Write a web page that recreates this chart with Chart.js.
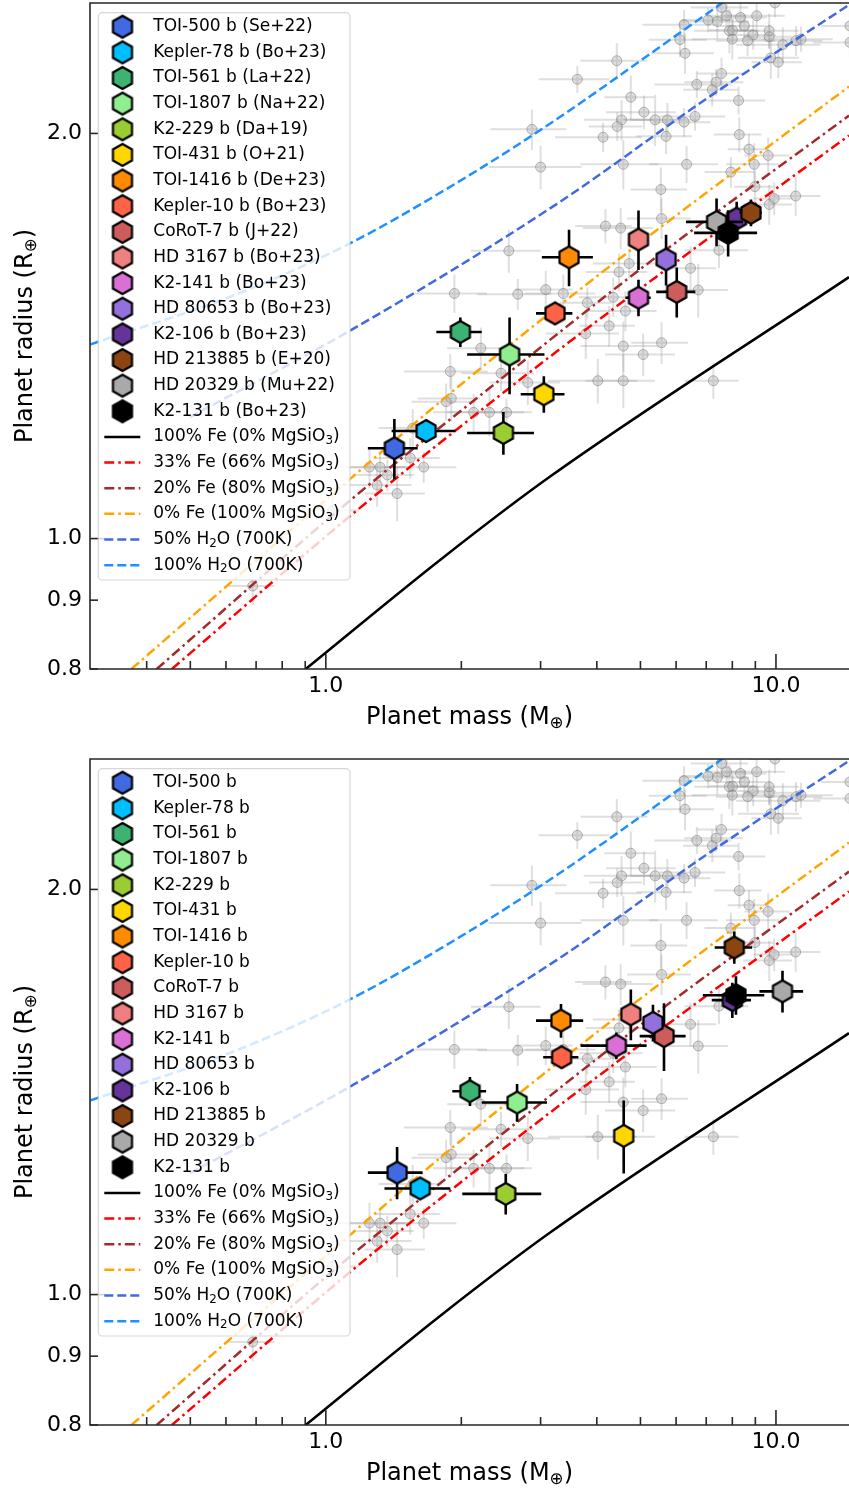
<!DOCTYPE html>
<html lang="en">
<head>
<meta charset="UTF-8" />
<title>Planet mass-radius diagram</title>
<script src="https://cdn.jsdelivr.net/npm/chart.js"></script>
<style>
  body { margin: 0; background: #fff; }
  .panel { position: absolute; left: 0; width: 849px; height: 734px; }
  #panelTop { top: 0; }
  #panelBottom { top: 756px; }
</style>
</head>
<body>
<div class="panel" id="panelTop"><canvas id="chartTop" width="849" height="734"></canvas></div>
<div class="panel" id="panelBottom"><canvas id="chartBottom" width="849" height="734"></canvas></div>

<script>
// ---- planets ----
const planetNames = ['TOI-500 b', 'Kepler-78 b', 'TOI-561 b', 'TOI-1807 b', 'K2-229 b', 'TOI-431 b',
  'TOI-1416 b', 'Kepler-10 b', 'CoRoT-7 b', 'HD 3167 b', 'K2-141 b', 'HD 80653 b', 'K2-106 b',
  'HD 213885 b', 'HD 20329 b', 'K2-131 b'];
const planetRefs = ['Se+22', 'Bo+23', 'La+22', 'Na+22', 'Da+19', 'O+21', 'De+23', 'Bo+23', 'J+22',
  'Bo+23', 'Bo+23', 'Bo+23', 'Bo+23', 'E+20', 'Mu+22', 'Bo+23'];

// literature values (top panel)
const massLit = [1.42, 1.67, 1.99, 2.56, 2.48, 3.05, 3.47, 3.23, 6.02, 4.95, 4.95, 5.70, 8.18, 8.80, 7.38, 7.83];
const massErrLit = [0.18, 0.27, 0.23, 0.50, 0.42, 0.34, 0.45, 0.30, 0.60, 0.20, 0.32, 0.25, 0.70, 0.50, 1.07, 1.25];
const radiusLit = [1.167, 1.202, 1.424, 1.370, 1.198, 1.280, 1.618, 1.470, 1.525, 1.668, 1.510, 1.612, 1.729, 1.746, 1.719, 1.687];
const radiusErrLit = [0.060, 0.023, 0.036, 0.090, 0.044, 0.040, 0.078, 0.020, 0.065, 0.085, 0.047, 0.070, 0.050, 0.040, 0.070, 0.067];

// homogeneous values (bottom panel)
const massHom = [1.44, 1.62, 2.09, 2.66, 2.51, 4.59, 3.33, 3.34, 5.64, 4.76, 4.42, 5.33, 8.00, 8.08, 10.34, 8.15];
const massErrHom = [0.20, 0.27, 0.18, 0.44, 0.50, 0.20, 0.40, 0.30, 0.66, 0.20, 0.74, 0.25, 0.80, 0.77, 1.15, 1.27];
const radiusHom = [1.232, 1.199, 1.416, 1.389, 1.188, 1.312, 1.598, 1.501, 1.556, 1.615, 1.531, 1.592, 1.655, 1.811, 1.680, 1.669];
const radiusErrHom = [0.055, 0.020, 0.035, 0.045, 0.041, 0.082, 0.046, 0.020, 0.090, 0.070, 0.035, 0.050, 0.050, 0.050, 0.060, 0.055];

// ---- other known small planets (grey background) ----
const bgMass = [7.57, 7.07, 7.41, 7.77, 8.34, 9.06, 6.25, 8.51, 7.88, 8.01, 8.90, 9.66, 9.66, 8.00, 8.65, 6.12,
  10.36, 11.08, 11.37, 14.6, 14.6, 6.28, 9.74, 10.12, 4.43, 3.62, 7.57, 7.36, 6.67, 7.22, 4.76, 8.26, 5.09,
  6.61, 4.54, 4.44, 5.39, 5.74, 6.25, 2.87, 4.13, 5.70, 8.29, 8.71, 9.61, 8.95, 4.58, 6.33, 3.00, 7.94, 5.55,
  8.98, 11.06, 9.91, 9.66, 5.57, 4.18, 4.52, 2.55, 7.47, 6.46, 4.72, 4.48, 1.93, 2.67, 3.08, 3.37, 6.72, 3.81,
  4.35, 4.63, 4.26, 3.78, 2.21, 4.58, 5.57, 5.07, 1.89, 2.45, 2.81, 4.02, 4.58, 7.26, 1.90, 1.85, 2.13, 2.31,
  2.52, 1.54, 1.65, 1.32, 1.25, 1.37, 1.30, 1.44, 1.56, 1.035, 0.688, 9.95];
const bgMassErr = [1.1, 0.9, 1.3, 0.8, 1.2, 1.4, 1.2, 1.0, 1.3, 0.9, 1.1, 1.6, 1.2, 1.5, 1.3, 0.9,
  2.2, 1.6, 2.0, 2.5, 2.0, 1.0, 1.5, 1.3, 0.75, 0.65, 0.9, 1.1, 1.3, 1.0, 0.6, 1.2, 0.9,
  1.1, 0.8, 0.6, 0.8, 1.0, 0.9, 0.55, 0.9, 0.8, 1.0, 0.9, 1.1, 1.2, 0.9, 1.1, 0.7, 1.0, 0.8,
  0.9, 1.5, 1.0, 1.2, 0.9, 0.6, 0.8, 0.45, 1.2, 0.9, 0.8, 0.7, 0.35, 0.5, 0.45, 0.6, 1.1, 0.5,
  0.7, 0.8, 0.6, 0.7, 0.35, 0.9, 0.8, 0.9, 0.4, 0.45, 0.5, 0.9, 0.8, 1.0, 0.3, 0.3, 0.4, 0.45,
  0.35, 0.25, 0.3, 0.2, 0.25, 0.2, 0.25, 0.22, 0.25, 0.15, 0.08, 1.3];
const bgRadius = [2.481, 2.428, 2.422, 2.446, 2.439, 2.446, 2.409, 2.404, 2.384, 2.386, 2.367, 2.384, 2.360,
  2.350, 2.344, 2.348, 2.328, 2.344, 2.350, 2.337, 2.404, 2.294, 2.276, 2.259, 2.265, 2.194, 2.216, 2.183,
  2.175, 2.155, 2.128, 2.116, 2.074, 2.059, 2.047, 2.024, 2.047, 2.047, 2.039, 2.014, 1.987, 1.990, 1.996,
  1.947, 1.926, 1.897, 1.897, 1.897, 1.888, 1.872, 1.817, 1.826, 1.797, 1.789, 1.771, 1.729, 1.707, 1.701,
  1.636, 1.638, 1.588, 1.601, 1.578, 1.521, 1.519, 1.531, 1.521, 1.530, 1.497, 1.511, 1.476, 1.439, 1.420,
  1.385, 1.390, 1.398, 1.370, 1.331, 1.327, 1.306, 1.310, 1.310, 1.310, 1.271, 1.264, 1.241, 1.241, 1.241,
  1.148, 1.130, 1.130, 1.130, 1.115, 1.096, 1.080, 1.208, 1.049, 0.922, 2.50];
const bgRadiusErr = [0.06, 0.05, 0.07, 0.05, 0.06, 0.08, 0.06, 0.05, 0.09, 0.05, 0.06, 0.07, 0.05,
  0.08, 0.06, 0.07, 0.07, 0.06, 0.05, 0.06, 0.07, 0.08, 0.08, 0.06, 0.07, 0.05, 0.06, 0.05,
  0.05, 0.06, 0.08, 0.05, 0.06, 0.05, 0.07, 0.05, 0.09, 0.06, 0.05, 0.07, 0.05, 0.06, 0.06,
  0.05, 0.06, 0.07, 0.08, 0.06, 0.07, 0.05, 0.07, 0.05, 0.06, 0.05, 0.06, 0.06, 0.05, 0.06,
  0.06, 0.05, 0.06, 0.04, 0.05, 0.05, 0.04, 0.05, 0.05, 0.07, 0.04, 0.05, 0.05, 0.05, 0.06,
  0.05, 0.06, 0.05, 0.05, 0.04, 0.04, 0.05, 0.05, 0.06, 0.04, 0.05, 0.04, 0.04, 0.05, 0.03,
  0.04, 0.03, 0.03, 0.04, 0.03, 0.04, 0.05, 0.04, 0.03, 0.03, 0.06];

// ---- composition models (mass, radius) ----
const fe100Mass = [0.902, 1.80, 3.15, 14.53];
const fe100Radius = [0.800, 0.965, 1.112, 1.564];
const fe33Mass = [0.455, 1.131, 2.698, 5.81, 14.53];
const fe33Radius = [0.800, 1.039, 1.312, 1.592, 1.993];
const fe20Mass = [0.421, 1.131, 2.436, 4.953, 14.53];
const fe20Radius = [0.800, 1.067, 1.312, 1.582, 2.062];
const fe0Mass = [0.370, 1.131, 2.054, 4.953, 14.53];
const fe0Radius = [0.800, 1.107, 1.312, 1.655, 2.167];
const h2o50Mass = [0.499, 1.131, 3.262, 7.135, 14.53];
const h2o50Radius = [1.231, 1.427, 1.773, 2.131, 2.492];
const h2o100Mass = [0.30, 0.634, 1.131, 2.089, 3.311, 6.12, 7.62, 10.0];
const h2o100Radius = [1.394, 1.519, 1.657, 1.863, 2.057, 2.376, 2.502, 2.667];

// ---- axes ----
const xRange = [0.2993, 14.53];
const yRange = [0.8, 2.5];
const xTickLabels = [1, 10];
const yTickLabels = [0.8, 0.9, 1.0, 2.0];
const xMajor = [1, 10];
const xMinor = [0.4, 0.5, 0.6, 0.7, 0.8, 0.9, 2, 3, 4, 5, 6, 7, 8, 9];
const yMajor = [1];
const yMinor = [0.8, 0.9, 2];

const FONT = "'DejaVu Sans', sans-serif";
const planetColors = ['#4169e1', '#00bfff', '#3cb371', '#90ee90', '#9acd32', '#ffd700', '#ff8c00', '#ff6347',
  '#cd5c5c', '#f08080', '#da70d6', '#9370db', '#663399', '#8b4513', '#a9a9a9', '#000000'];

const models = [
  { label: '100% Fe (0% MgSiO_{3})', mass: fe100Mass, radius: fe100Radius, color: '#000000', dash: [] },
  { label: '33% Fe (66% MgSiO_{3})', mass: fe33Mass, radius: fe33Radius, color: '#ff0000', dash: [10, 4, 2.5, 4] },
  { label: '20% Fe (80% MgSiO_{3})', mass: fe20Mass, radius: fe20Radius, color: '#a52a2a', dash: [10, 4, 2.5, 4] },
  { label: '0% Fe (100% MgSiO_{3})', mass: fe0Mass, radius: fe0Radius, color: '#ffa500', dash: [10, 4, 2.5, 4] },
  { label: '50% H_{2}O (700K)', mass: h2o50Mass, radius: h2o50Radius, color: '#4169e1', dash: [9, 4] },
  { label: '100% H_{2}O (700K)', mass: h2o100Mass, radius: h2o100Radius, color: '#1e90ff', dash: [9, 4] }
];

// hexagon marker, pointy side up
function hexagon(fill, r) {
  const size = 2 * r + 4;
  const c = document.createElement('canvas');
  c.width = size; c.height = size;
  const g = c.getContext('2d');
  g.beginPath();
  for (let k = 0; k < 6; k++) {
    const a = -Math.PI / 2 + k * Math.PI / 3;
    const px = size / 2 + r * Math.cos(a), py = size / 2 + r * Math.sin(a);
    if (k) g.lineTo(px, py); else g.moveTo(px, py);
  }
  g.closePath();
  g.fillStyle = fill;
  g.fill();
  g.lineWidth = 2.2;
  g.strokeStyle = '#000';
  g.stroke();
  return c;
}
const hexagons = planetColors.map(c => hexagon(c, 11));

// text with _{..} subscripts
function richText(ctx, text, x, y, size, align) {
  const parts = text.split(/_\{([^}]*)\}/);
  const fontFor = i => (i % 2 ? size * 0.7 : size) + 'px ' + FONT;
  let width = 0;
  parts.forEach((p, i) => { ctx.font = fontFor(i); width += ctx.measureText(p).width; });
  let cx = align === 'center' ? x - width / 2 : x;
  ctx.textAlign = 'left';
  ctx.textBaseline = 'middle';
  parts.forEach((p, i) => {
    ctx.font = fontFor(i);
    ctx.fillText(p, cx, y + (i % 2 ? size * 0.25 : 0));
    cx += ctx.measureText(p).width;
  });
}

// error bars are drawn right before the markers of the same dataset
const errorBars = {
  id: 'errorBars',
  beforeDatasetDraw(chart, args) {
    const ds = chart.data.datasets[args.index];
    if (!ds.xErr) return;
    const { ctx, chartArea: a } = chart;
    const x = chart.scales.x, y = chart.scales.y;
    ctx.save();
    ctx.beginPath();
    ctx.rect(a.left, a.top, a.right - a.left, a.bottom - a.top);
    ctx.clip();
    ctx.strokeStyle = ds.errColor;
    ctx.lineWidth = ds.errWidth;
    ds.data.forEach((p, i) => {
      const px = x.getPixelForValue(p.x), py = y.getPixelForValue(p.y);
      ctx.beginPath();
      ctx.moveTo(x.getPixelForValue(p.x - ds.xErr[i]), py);
      ctx.lineTo(x.getPixelForValue(p.x + ds.xErr[i]), py);
      ctx.moveTo(px, y.getPixelForValue(p.y - ds.yErr[i]));
      ctx.lineTo(px, y.getPixelForValue(p.y + ds.yErr[i]));
      ctx.stroke();
    });
    ctx.restore();
  }
};

// frame, inward ticks, axis titles and the legend
const decorations = {
  id: 'decorations',
  afterDraw(chart) {
    const { ctx, chartArea: a } = chart;
    const x = chart.scales.x, y = chart.scales.y;
    ctx.save();
    ctx.strokeStyle = '#262626';
    ctx.lineWidth = 1.6;
    ctx.beginPath();
    ctx.moveTo(a.right + 2, a.top); ctx.lineTo(a.left, a.top);
    ctx.lineTo(a.left, a.bottom); ctx.lineTo(a.right + 2, a.bottom);
    ctx.stroke();

    const tick = (px, py, dx, dy) => { ctx.beginPath(); ctx.moveTo(px, py); ctx.lineTo(px + dx, py + dy); ctx.stroke(); };
    xMajor.forEach(v => tick(x.getPixelForValue(v), a.bottom, 0, -15));
    xMinor.forEach(v => tick(x.getPixelForValue(v), a.bottom, 0, -8));
    yMajor.forEach(v => tick(a.left, y.getPixelForValue(v), 15, 0));
    yMinor.forEach(v => tick(a.left, y.getPixelForValue(v), 8, 0));

    ctx.fillStyle = '#000';
    richText(ctx, 'Planet mass (M_{\u2295})', (a.left + a.right) / 2, a.bottom + 49, 24, 'center');
    ctx.save();
    ctx.translate(26, (a.top + a.bottom) / 2);
    ctx.rotate(-Math.PI / 2);
    richText(ctx, 'Planet radius (R_{\u2295})', 0, 0, 24, 'center');
    ctx.restore();

    // legend
    const bx = a.left + 8.3, by = a.top + 9.7, bw = 251.7, bh = 567.3;
    ctx.beginPath();
    ctx.roundRect(bx, by, bw, bh, 4);
    ctx.fillStyle = 'rgba(255,255,255,0.8)';
    ctx.fill();
    ctx.strokeStyle = 'rgba(204,204,204,0.8)';
    ctx.lineWidth = 1.2;
    ctx.stroke();
    const entries = chart.data.datasets.filter(d => d.legendKind).sort((p, q) => p.legendRank - q.legendRank);
    entries.forEach((d, i) => {
      const cy = by + 14 + i * 25.64;
      if (d.legendKind === 'marker') {
        ctx.drawImage(d.pointStyle, bx + 24.2 - d.pointStyle.width / 2, cy - d.pointStyle.height / 2);
      } else {
        ctx.save();
        ctx.strokeStyle = d.borderColor;
        ctx.lineWidth = 2.5;
        ctx.setLineDash(d.borderDash);
        ctx.beginPath();
        ctx.moveTo(bx + 6, cy); ctx.lineTo(bx + 42, cy);
        ctx.stroke();
        ctx.restore();
      }
      ctx.fillStyle = '#000';
      richText(ctx, d.label, bx + 55, cy, 17, 'left');
    });
    ctx.restore();
  }
};

function buildPanel(canvasId, mass, massErr, radius, radiusErr, withRefs) {
  const datasets = [];
  planetNames.forEach((name, i) => {
    datasets.push({
      label: withRefs ? name + ' (' + planetRefs[i] + ')' : name,
      data: [{ x: mass[i], y: radius[i] }],
      xErr: [massErr[i]], yErr: [radiusErr[i]],
      errColor: '#000', errWidth: 2.6,
      pointStyle: hexagons[i], pointRadius: 11,
      order: planetNames.length - i, clip: 0,
      legendKind: 'marker', legendRank: i
    });
  });
  models.forEach((m, j) => {
    datasets.push({
      label: m.label,
      data: m.mass.map((v, k) => ({ x: v, y: m.radius[k] })),
      showLine: true, pointRadius: 0, borderColor: m.color, borderWidth: 2.5,
      borderDash: m.dash, cubicInterpolationMode: 'monotone',
      order: 30, clip: 0,
      legendKind: 'line', legendRank: planetNames.length + j
    });
  });
  datasets.push({
    label: 'known planets',
    data: bgMass.map((v, k) => ({ x: v, y: bgRadius[k] })),
    xErr: bgMassErr, yErr: bgRadiusErr,
    errColor: 'rgba(150,150,150,0.3)', errWidth: 2,
    pointStyle: 'circle', pointRadius: 5, pointBorderWidth: 1,
    pointBackgroundColor: 'rgba(170,170,170,0.4)', pointBorderColor: 'rgba(120,120,120,0.5)',
    order: 40, clip: 0
  });

  const tickFont = { family: FONT, size: 22 };
  new Chart(document.getElementById(canvasId), {
    type: 'scatter',
    data: { datasets },
    options: {
      responsive: false,
      animation: false,
      devicePixelRatio: 1,
      events: [],
      layout: { autoPadding: false, padding: { top: 3, right: 0, left: 0, bottom: 0 } },
      plugins: { legend: { display: false }, tooltip: { enabled: false } },
      scales: {
        x: {
          type: 'logarithmic', min: xRange[0], max: xRange[1],
          grid: { display: false, drawTicks: false },
          border: { display: false },
          afterBuildTicks: s => { s.ticks = xTickLabels.map(v => ({ value: v })); },
          afterFit: s => { s.height = 65; s.paddingLeft = 0; s.paddingRight = 0; },
          ticks: { font: tickFont, color: '#000', padding: 4, autoSkip: false, maxRotation: 0,
            callback: v => Number(v).toFixed(1) }
        },
        y: {
          type: 'logarithmic', min: yRange[0], max: yRange[1],
          grid: { display: false, drawTicks: false },
          border: { display: false },
          afterBuildTicks: s => { s.ticks = yTickLabels.map(v => ({ value: v })); },
          afterFit: s => { s.width = 90; s.paddingTop = 0; s.paddingBottom = 0; },
          ticks: { font: tickFont, color: '#000', padding: 8, autoSkip: false,
            callback: v => Number(v).toFixed(1) }
        }
      }
    },
    plugins: [errorBars, decorations]
  });
}

buildPanel('chartTop', massLit, massErrLit, radiusLit, radiusErrLit, true);
buildPanel('chartBottom', massHom, massErrHom, radiusHom, radiusErrHom, false);
</script>
</body>
</html>
